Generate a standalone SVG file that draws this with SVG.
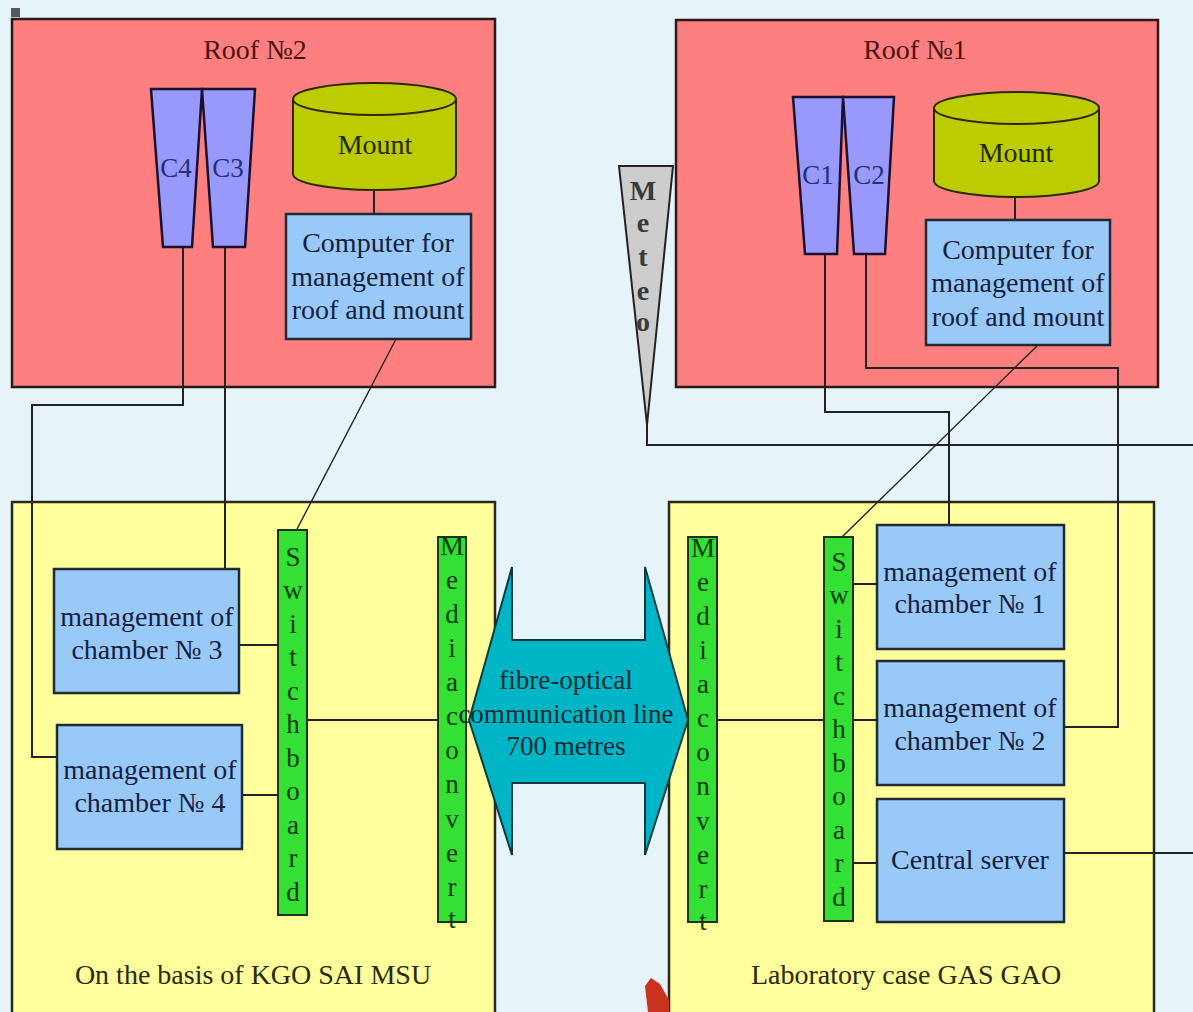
<svg xmlns="http://www.w3.org/2000/svg" width="1193" height="1012" viewBox="0 0 1193 1012">
<style>
.bg{fill:#e6f4fa}
.roof{fill:#fd7f7f;stroke:#2a1a1a;stroke-width:2.5}
.base{fill:#ffff9c;stroke:#2a2a1a;stroke-width:2.5}
.box{fill:#99c9f7;stroke:#1f2a33;stroke-width:2.5}
.cam{fill:#9999fb;stroke:#1a1030;stroke-width:2.5}
.mount{fill:#bccc00;stroke:#2a2a00;stroke-width:2}
.bar{fill:#33e033;stroke:#1a331a;stroke-width:2}
.meteo{fill:#cdcdcd;stroke:#222;stroke-width:2}
.arrow{fill:#00b5c6;stroke:#0f3a40;stroke-width:2}
.ln{fill:none;stroke:#222;stroke-width:2}
.thin{fill:none;stroke:#222;stroke-width:1.4}
text{font-family:"Liberation Serif","DejaVu Serif",serif}
.t{font-size:28px;fill:#15213f;text-anchor:middle}
.rl{font-size:28px;fill:#4a1212;text-anchor:middle}
.mt{font-size:28px;fill:#222800;text-anchor:middle}
.cl{font-size:27px;fill:#24307a;text-anchor:middle}
.vl{font-size:27px;fill:#0a3a0a;text-anchor:middle}
.ml{font-size:28px;fill:#3a3a3a;text-anchor:middle;font-weight:bold}
.at{font-size:27px;fill:#082a30;text-anchor:middle}
.bl{font-size:28px;fill:#2c2a0a;text-anchor:middle}
</style>
<rect class="bg" x="0" y="0" width="1193" height="1012"/>
<rect x="11" y="8" width="9" height="9" fill="#5a5a5a"/>

<g id="roof2">
<rect class="roof" x="12" y="19" width="483" height="368"/>
<text class="rl" x="255" y="59">Roof №2</text>
</g>
<g id="roof1">
<rect class="roof" x="676" y="20" width="482" height="367"/>
<text class="rl" x="915" y="59">Roof №1</text>
</g>
<g id="baseKGO">
<rect class="base" x="12" y="502" width="483" height="515"/>
<text class="bl" x="253" y="984">On the basis of KGO SAI MSU</text>
</g>
<g id="baseGAO">
<rect class="base" x="669" y="502" width="485" height="515"/>
<text class="bl" x="906" y="984">Laboratory case GAS GAO</text>
</g>

<g id="connectors">
<line class="ln" x1="374" y1="190" x2="374" y2="214"/>
<line class="ln" x1="1015" y1="197" x2="1015" y2="220"/>
<line class="thin" x1="396" y1="339" x2="296" y2="531"/>
<polyline class="ln" points="183,247 183,405 32,405 32,757 57,757"/>
<line class="ln" x1="225" y1="247" x2="225" y2="569"/>
<line class="ln" x1="239" y1="645" x2="278" y2="645"/>
<line class="ln" x1="242" y1="795" x2="278" y2="795"/>
<line class="ln" x1="307" y1="720" x2="438" y2="720"/>
<polyline class="ln" points="647,420 647,445 1193,445"/>
<polyline class="ln" points="825,254 825,412 949,412 949,525"/>
<polyline class="ln" points="866,254 866,368 1118,368 1118,727 1064,727"/>
<line class="thin" x1="1037" y1="346" x2="842" y2="537"/>
<line class="ln" x1="717" y1="720" x2="824" y2="720"/>
<line class="ln" x1="853" y1="584" x2="877" y2="584"/>
<line class="ln" x1="853" y1="720" x2="877" y2="720"/>
<line class="ln" x1="853" y1="863" x2="877" y2="863"/>
<line class="ln" x1="1064" y1="853" x2="1193" y2="853"/>
</g>

<g id="C4">
<polygon class="cam" points="151,89 202,89 192,247 163,247"/>
<text class="cl" x="176" y="177">C4</text>
</g>
<g id="C3">
<polygon class="cam" points="202,89 255,89 245,247 213,247"/>
<text class="cl" x="228" y="177">C3</text>
</g>
<g id="C1">
<polygon class="cam" points="793,97 843,97 837,254 805,254"/>
<text class="cl" x="818" y="184">C1</text>
</g>
<g id="C2">
<polygon class="cam" points="843,97 894,97 885,254 854,254"/>
<text class="cl" x="869" y="184">C2</text>
</g>

<g id="mount2">
<path class="mount" d="M293,99 A81.5,16 0 0 1 456,99 L456,174 A81.5,16 0 0 1 293,174 Z"/>
<path class="mount" d="M293,99 A81.5,16 0 0 0 456,99" fill="none"/>
<text class="mt" x="375" y="154">Mount</text>
</g>
<g id="mount1">
<path class="mount" d="M934,108 A82.5,16 0 0 1 1099,108 L1099,181 A82.5,16 0 0 1 934,181 Z"/>
<path class="mount" d="M934,108 A82.5,16 0 0 0 1099,108" fill="none"/>
<text class="mt" x="1016" y="162">Mount</text>
</g>

<g id="computer2">
<rect class="box" x="286" y="214" width="185" height="125"/>
<text class="t" x="378" y="252">Computer for</text>
<text class="t" x="378" y="286">management of</text>
<text class="t" x="378" y="319">roof and mount</text>
</g>
<g id="computer1">
<rect class="box" x="926" y="220" width="184" height="125"/>
<text class="t" x="1018" y="259">Computer for</text>
<text class="t" x="1018" y="292">management of</text>
<text class="t" x="1018" y="326">roof and mount</text>
</g>

<g id="meteo">
<polygon class="meteo" points="619,166 673,166 647,425"/>
<text class="ml"><tspan x="643" y="200">M</tspan><tspan x="643" y="232">e</tspan><tspan x="643" y="266">t</tspan><tspan x="643" y="300">e</tspan><tspan x="643" y="331">o</tspan></text>
</g>

<g id="chamber3">
<rect class="box" x="54" y="569" width="185" height="124"/>
<text class="t" x="147" y="626">management of</text>
<text class="t" x="147" y="659">chamber № 3</text>
</g>
<g id="chamber4">
<rect class="box" x="57" y="725" width="185" height="124"/>
<text class="t" x="150" y="779">management of</text>
<text class="t" x="150" y="812">chamber № 4</text>
</g>

<g id="switchboard2">
<rect class="bar" x="278" y="530" width="29" height="385"/>
<text class="vl"><tspan x="293" y="566">S</tspan><tspan x="293" y="599">w</tspan><tspan x="293" y="633">i</tspan><tspan x="293" y="666">t</tspan><tspan x="293" y="700">c</tspan><tspan x="293" y="733">h</tspan><tspan x="293" y="767">b</tspan><tspan x="293" y="800">o</tspan><tspan x="293" y="834">a</tspan><tspan x="293" y="867">r</tspan><tspan x="293" y="901">d</tspan></text>
</g>
<g id="mediaconvert2">
<rect class="bar" x="438" y="537" width="28" height="385"/>
<text class="vl"><tspan x="452" y="555">M</tspan><tspan x="452" y="589">e</tspan><tspan x="452" y="623">d</tspan><tspan x="452" y="657">i</tspan><tspan x="452" y="691">a</tspan><tspan x="452" y="725">c</tspan><tspan x="452" y="759">o</tspan><tspan x="452" y="793">n</tspan><tspan x="452" y="828">v</tspan><tspan x="452" y="862">e</tspan><tspan x="452" y="896">r</tspan><tspan x="452" y="928">t</tspan></text>
</g>

<g id="fibre">
<polygon class="arrow" points="469,720 512,567 512,640 645,640 645,567 688,720 645,855 645,783 512,783 512,855"/>
<text class="at" x="566" y="689">fibre-optical</text>
<text class="at" x="566" y="723">communication line</text>
<text class="at" x="566" y="755">700 metres</text>
</g>

<g id="mediaconvert1">
<rect class="bar" x="688" y="537" width="29" height="385"/>
<text class="vl"><tspan x="703" y="557">M</tspan><tspan x="703" y="591">e</tspan><tspan x="703" y="625">d</tspan><tspan x="703" y="659">i</tspan><tspan x="703" y="693">a</tspan><tspan x="703" y="727">c</tspan><tspan x="703" y="761">o</tspan><tspan x="703" y="795">n</tspan><tspan x="703" y="830">v</tspan><tspan x="703" y="864">e</tspan><tspan x="703" y="898">r</tspan><tspan x="703" y="930">t</tspan></text>
</g>
<g id="switchboard1">
<rect class="bar" x="824" y="537" width="29" height="384"/>
<text class="vl"><tspan x="839" y="571">S</tspan><tspan x="839" y="604">w</tspan><tspan x="839" y="638">i</tspan><tspan x="839" y="671">t</tspan><tspan x="839" y="705">c</tspan><tspan x="839" y="738">h</tspan><tspan x="839" y="772">b</tspan><tspan x="839" y="805">o</tspan><tspan x="839" y="839">a</tspan><tspan x="839" y="872">r</tspan><tspan x="839" y="906">d</tspan></text>
</g>

<g id="chamber1">
<rect class="box" x="877" y="525" width="187" height="124"/>
<text class="t" x="970" y="581">management of</text>
<text class="t" x="970" y="613">chamber № 1</text>
</g>
<g id="chamber2">
<rect class="box" x="877" y="661" width="187" height="124"/>
<text class="t" x="970" y="717">management of</text>
<text class="t" x="970" y="750">chamber № 2</text>
</g>
<g id="server">
<rect class="box" x="877" y="799" width="187" height="123"/>
<text class="t" x="970" y="869">Central server</text>
</g>

<g id="redmark">
<polygon points="645,986 651,978 660,984 669,1000 669,1012 648,1012" fill="#c8321e"/>
</g>
</svg>
